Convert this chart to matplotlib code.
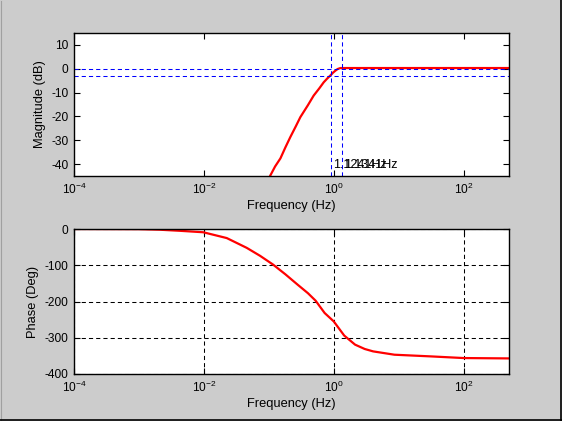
import matplotlib
matplotlib.use("Agg")
import matplotlib.pyplot as plt
from matplotlib.lines import Line2D

plt.rcParams['font.family'] = ['Liberation Sans', 'DejaVu Sans']
plt.rcParams['mathtext.fontset'] = 'custom'
plt.rcParams['mathtext.rm'] = 'Liberation Sans'
plt.rcParams['mathtext.default'] = 'regular'
plt.rcParams['axes.unicode_minus'] = False
plt.rcParams['font.size'] = 9
plt.rcParams['lines.scale_dashes'] = False

# magnitude response (dB)
mag_freq = [0.09, 0.105, 0.125, 0.151, 0.18, 0.215, 0.26, 0.306, 0.40, 0.491, 0.60,
            0.70, 0.80, 0.889, 0.97, 1.06, 1.15, 1.27, 2.0, 10.0, 100.0, 500.0]
mag_db = [-50.0, -44.9, -41.0, -37.6, -33.0, -28.6, -24.2, -20.3, -15.3, -11.25, -8.2,
          -5.7, -4.0, -2.8, -1.7, -0.8, -0.1, 0.3, 0.3, 0.3, 0.3, 0.3]

# phase response (deg)
ph_freq = [1e-4, 1e-3, 0.0021, 0.0043, 0.0098, 0.0225, 0.0457, 0.0734, 0.117, 0.18,
           0.278, 0.40, 0.526, 0.724, 1.0, 1.45, 2.13, 3.0, 4.04, 8.6, 31.0, 100.0, 500.0]
ph_deg = [0.0, -0.5, -2.0, -5.0, -9.0, -25.0, -52.0, -74.0, -98.5, -125.0, -153.6,
          -177.0, -197.8, -231.7, -254.9, -294.0, -319.0, -331.0, -337.6, -346.8,
          -351.4, -356.0, -357.0]

# marker lines in the magnitude plot
mark_freq = [0.912, 1.33]
mark_db = [0.0, -3.0]
mark_text = ['1.1241Hz', '1.1341Hz']
text_freq = [0.965, 1.45]

W, H = 562, 421
fig = plt.figure(figsize=(W / 100, H / 100), dpi=100, facecolor='#cccccc')

ax1 = fig.add_axes([74 / W, (H - 176) / H, 435 / W, 143 / H])
ax2 = fig.add_axes([74 / W, (H - 374) / H, 435 / W, 145 / H])

for ax in (ax1, ax2):
    ax.set_xscale('log')
    ax.set_xlim(1e-4, 500)
    ax.set_xticks([1e-4, 1e-2, 1e0, 1e2])
    ax.minorticks_off()
    ax.tick_params(direction='in', top=True, right=True, length=4, width=0.8,
                   labelsize=8.6, pad=4)
    for s in ax.spines.values():
        s.set_linewidth(1.0)
    ax.set_xlabel('Frequency (Hz)', fontsize=9.3, labelpad=2)

ax1.plot(mag_freq, mag_db, color='red', lw=1.6)
for f in mark_freq:
    ax1.axvline(f, color='blue', lw=0.75, dashes=(3, 2.2))
for d in mark_db:
    ax1.axhline(d, color='blue', lw=0.75, dashes=(3, 2.2))
for f, t in zip(text_freq, mark_text):
    ax1.text(f, -41.8, t, fontsize=9, va='baseline', ha='left')
ax1.set_ylim(-45, 15)
ax1.set_yticks([-40, -30, -20, -10, 0, 10])
ax1.set_ylabel('Magnitude (dB)', fontsize=9.3)

ax2.plot(ph_freq, ph_deg, color='red', lw=1.6)
ax2.set_ylim(-400, 0)
ax2.set_yticks([-400, -300, -200, -100, 0])
ax2.grid(True, color='black', lw=0.75, dashes=(3, 2.2))
ax2.set_ylabel('Phase (Deg)', fontsize=9.3)

# window border
fig.add_artist(Line2D([0.5 / W, 0.5 / W, 1 - 0.5 / W], [1 - 0.5 / H, 0.5 / H, 0.5 / H],
                      transform=fig.transFigure, color='#a0a0a0', lw=0.8))
fig.add_artist(Line2D([0, 1], [0.6 / H, 0.6 / H],
                      transform=fig.transFigure, color='black', lw=1.2))
fig.add_artist(Line2D([1 - 0.6 / W, 1 - 0.6 / W], [0, 1],
                      transform=fig.transFigure, color='black', lw=1.2))

fig.savefig('out.png', dpi=100, facecolor=fig.get_facecolor())
